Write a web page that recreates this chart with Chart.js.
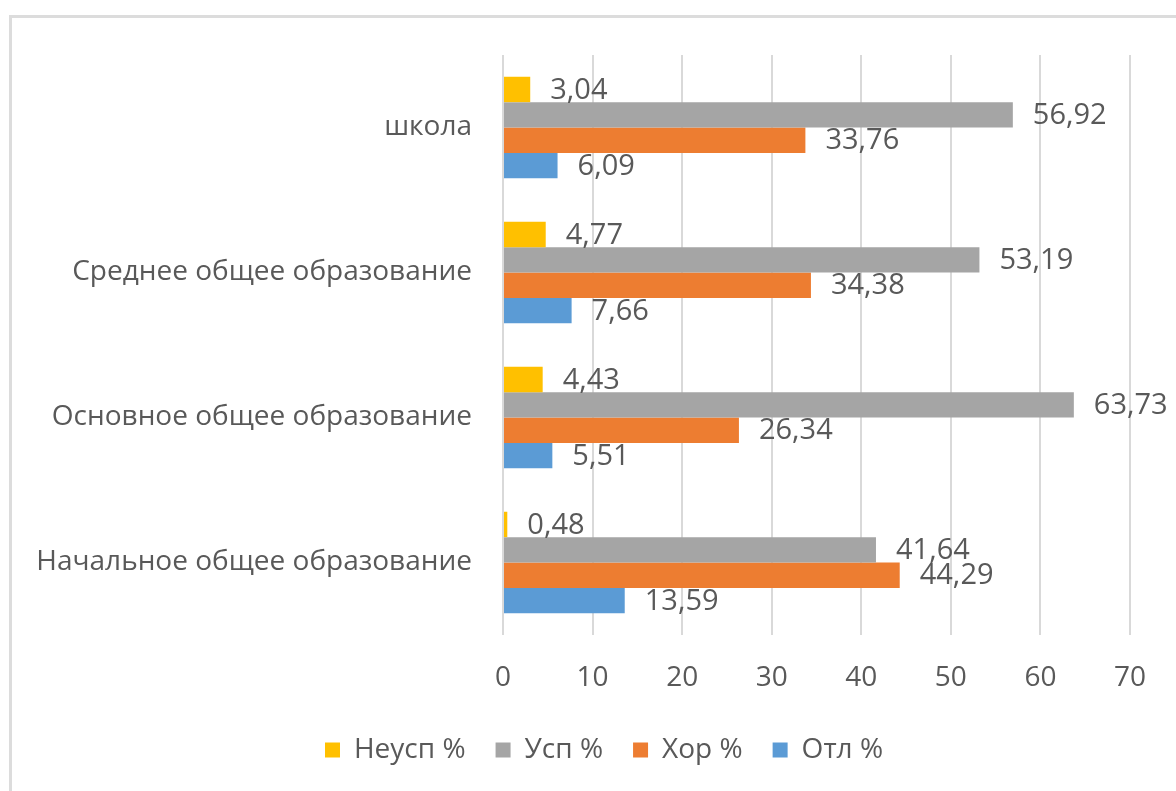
<!DOCTYPE html>
<html lang="ru">
<head>
<meta charset="utf-8">
<title>Успеваемость по уровням образования</title>
<script src="https://cdn.jsdelivr.net/npm/chart.js@4/dist/chart.umd.min.js"></script>
<style>
  html, body { margin: 0; padding: 0; background: #ffffff; overflow: hidden; }
  #frame {
    position: absolute; left: 9px; top: 15px; width: 1400px; height: 1000px;
    border-left: 3px solid #dcdcdc; border-top: 3px solid #dcdcdc;
  }
  #wrap { position: absolute; left: 0; top: 0; width: 1176px; height: 791px; }
</style>
</head>
<body>
<div id="frame"></div>
<div id="wrap"><canvas id="chart" width="1176" height="791"></canvas></div>
<script>
// Categories, top to bottom
const categories = [
  'школа',
  'Среднее общее образование',
  'Основное общее образование',
  'Начальное общее образование'
];

// Series labels (legend order)
const seriesNames = ['Неусп %', 'Усп %', 'Хор %', 'Отл %'];

// Values per series, in category order
const neuspValues = [3.04, 4.77, 4.43, 0.48];
const uspValues   = [56.92, 53.19, 63.73, 41.64];
const horValues   = [33.76, 34.38, 26.34, 44.29];
const otlValues   = [6.09, 7.66, 5.51, 13.59];

// Value axis ticks
const xTicks = [0, 10, 20, 30, 40, 50, 60, 70];

const colors = ['#FFC000', '#A5A5A5', '#ED7D31', '#5B9BD5'];
const textColor = '#595959';
const fontFamily = '"Open Sans", "Noto Sans", "DejaVu Sans", sans-serif';

const seriesValues = [neuspValues, uspValues, horValues, otlValues];

// Writes each bar's value just past its end, with a decimal comma
const valueLabels = {
  id: 'valueLabels',
  afterDatasetsDraw(chart) {
    const ctx = chart.ctx;
    ctx.save();
    ctx.font = '29px ' + fontFamily;
    ctx.fillStyle = textColor;
    ctx.textAlign = 'left';
    ctx.textBaseline = 'middle';
    chart.data.datasets.forEach((ds, di) => {
      const meta = chart.getDatasetMeta(di);
      meta.data.forEach((bar, i) => {
        const text = ds.data[i].toFixed(2).replace('.', ',');
        ctx.fillText(text, bar.x + 20, bar.y + 1);
      });
    });
    ctx.restore();
  }
};

// Centres the legend under the plot area rather than the whole canvas
const legendShift = {
  id: 'legendShift',
  afterLayout(chart) {
    const lg = chart.legend;
    if (!lg) return;
    const shift = 39;
    lg.left += shift;
    lg.right += shift;
  }
};

new Chart(document.getElementById('chart'), {
  type: 'bar',
  data: {
    labels: categories,
    datasets: seriesNames.map((name, i) => ({
      label: name,
      data: seriesValues[i],
      backgroundColor: colors[i],
      borderWidth: 0,
      categoryPercentage: 0.7,
      barPercentage: 1.0
    }))
  },
  options: {
    indexAxis: 'y',
    responsive: false,
    animation: false,
    layout: { padding: { left: 0, right: 46, top: 55, bottom: 17 } },
    scales: {
      x: {
        min: xTicks[0],
        max: xTicks[xTicks.length - 1],
        afterBuildTicks(scale) { scale.ticks = xTicks.map(v => ({ value: v })); },
        afterFit(scale) { scale.height = 71; },
        grid: { color: '#d9d9d9', lineWidth: 2, drawTicks: false },
        border: { display: false },
        ticks: {
          color: textColor,
          padding: 26,
          font: { family: fontFamily, size: 28 }
        }
      },
      y: {
        afterFit(scale) { scale.width = 503; },
        grid: { display: false, drawTicks: false },
        border: { display: false },
        ticks: {
          color: textColor,
          padding: 31,
          font: { family: fontFamily, size: 28 }
        }
      }
    },
    plugins: {
      legend: {
        position: 'bottom',
        labels: {
          color: textColor,
          boxWidth: 15,
          boxHeight: 15,
          padding: 30,
          font: { family: fontFamily, size: 28 }
        }
      },
      tooltip: { enabled: false }
    }
  },
  plugins: [valueLabels, legendShift]
});
</script>
</body>
</html>
